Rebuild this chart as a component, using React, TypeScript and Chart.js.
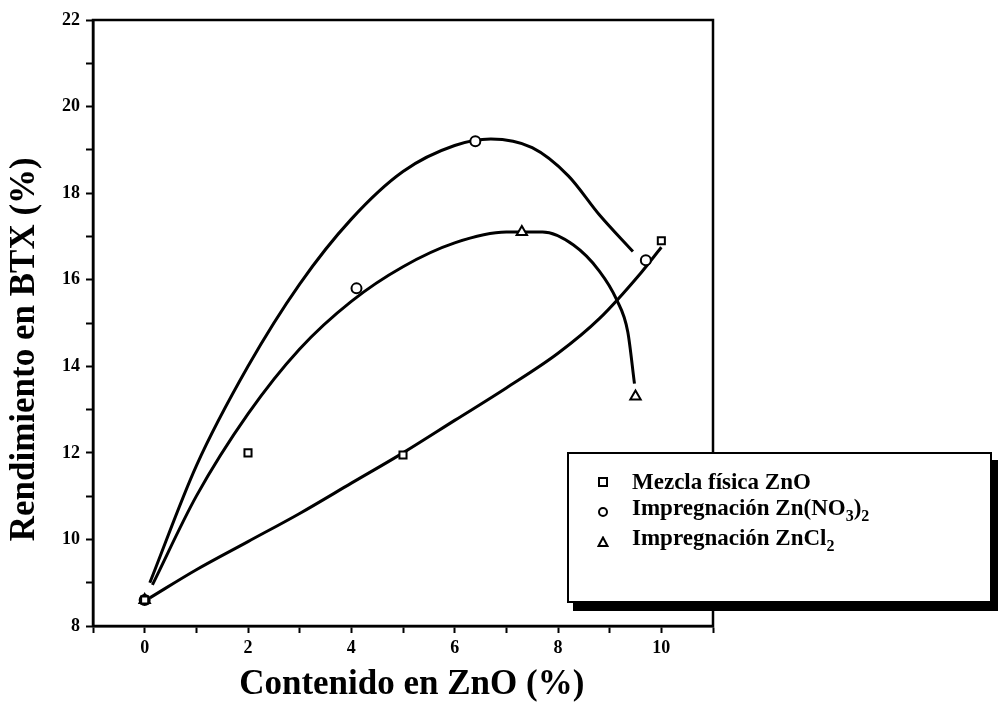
import React, { useEffect, useRef } from "react";
import { Chart, registerables } from "chart.js";

Chart.register(...registerables);

// Measured points
const mezclaX = [0, 2, 5, 10];
const mezclaY = [8.6, 12.0, 11.95, 16.9];
const nitratoX = [0, 4.1, 6.4, 9.7];
const nitratoY = [8.6, 15.8, 19.2, 16.45];
const cloruroX = [0, 7.3, 9.5];
const cloruroY = [8.6, 17.1, 13.3];

// Fitted curves
const mezclaFitX = [0.1, 1, 2, 3, 4, 5, 6, 7, 8, 8.8, 9.6, 10];
const mezclaFitY = [8.65, 9.3, 9.95, 10.6, 11.3, 12.0, 12.75, 13.5, 14.3, 15.1, 16.15, 16.75];
const nitratoFitX = [0.1, 1, 2, 3, 4, 5, 6, 6.7, 7.5, 8.2, 8.8, 9.45];
const nitratoFitY = [9.0, 11.7, 14.0, 15.9, 17.4, 18.5, 19.1, 19.25, 19.05, 18.4, 17.5, 16.65];
const cloruroFitX = [0.15, 1, 2, 3, 4, 5, 6, 7, 7.7, 8.3, 8.8, 9.13, 9.35, 9.48];
const cloruroFitY = [8.95, 11.0, 12.9, 14.4, 15.5, 16.3, 16.85, 17.1, 17.1, 16.8, 16.2, 15.55, 14.8, 13.6];

const xTickLabels = ["0", "2", "4", "6", "8", "10"];
const yTickLabels = ["8", "10", "12", "14", "16", "18", "20", "22"];

const xTitle = "Contenido en ZnO (%)";
const yTitle = "Rendimiento en BTX (%)";

const zip = (xs: number[], ys: number[]) => xs.map((x, i) => ({ x, y: ys[i] }));

const SERIF = "'Liberation Serif', 'Times New Roman', serif";

const framePlugin = {
  id: "frame",
  afterDraw(chart: any) {
    const { ctx, chartArea } = chart;
    ctx.save();
    ctx.strokeStyle = "#000";
    ctx.lineWidth = 2.5;
    ctx.strokeRect(chartArea.left, chartArea.top, chartArea.right - chartArea.left, chartArea.bottom - chartArea.top);
    ctx.restore();
  },
};

export default function App() {
  const ref = useRef<HTMLCanvasElement | null>(null);

  useEffect(() => {
    document.body.style.margin = "0";
    const canvas = ref.current!;
    const lineDs = (xs: number[], ys: number[]) => ({
      type: "line" as const,
      data: zip(xs, ys),
      borderColor: "#000",
      borderWidth: 3,
      pointRadius: 0,
      fill: false,
      cubicInterpolationMode: "monotone" as const,
      order: 2,
    });
    const markDs = (xs: number[], ys: number[], style: string, r: number) => ({
      type: "scatter" as const,
      data: zip(xs, ys),
      showLine: false,
      pointStyle: style,
      pointRadius: r,
      pointBorderWidth: 2,
      pointBorderColor: "#000",
      pointBackgroundColor: "#fff",
      order: 1,
    });
    const chart = new Chart(canvas, {
      type: "scatter",
      data: {
        datasets: [
          lineDs(mezclaFitX, mezclaFitY),
          lineDs(nitratoFitX, nitratoFitY),
          lineDs(cloruroFitX, cloruroFitY),
          markDs(mezclaX, mezclaY, "rect", 5),
          markDs(nitratoX, nitratoY, "circle", 5),
          markDs(cloruroX, cloruroY, "triangle", 6),
        ] as any,
      },
      options: {
        animation: false,
        responsive: false,
        layout: { padding: { left: 0, right: 292, top: 20, bottom: 0 } },
        plugins: { legend: { display: false }, tooltip: { enabled: false } },
        scales: {
          x: {
            type: "linear",
            min: -1,
            max: 11,
            afterFit: (s: any) => { s.height = 80; },
            border: { display: true, color: "#000", width: 2.5 },
            grid: { drawOnChartArea: false, tickLength: 7, tickColor: "#000", tickWidth: 2 },
            ticks: {
              stepSize: 1,
              autoSkip: false,
              maxRotation: 0,
              padding: 5,
              color: "#000",
              font: { family: SERIF, size: 18, weight: "bold" },
              callback: (v: any) => {
                const n = Number(v);
                return n >= 0 && n % 2 === 0 ? xTickLabels[n / 2] : "";
              },
            },
            title: {
              display: true,
              text: "  " + xTitle,
              color: "#000",
              font: { family: SERIF, size: 35, weight: "bold" },
              padding: { top: 0, bottom: 0 },
            },
          },
          y: {
            type: "linear",
            min: 8,
            max: 22,
            afterFit: (s: any) => { s.width = 93; },
            border: { display: true, color: "#000", width: 2.5 },
            grid: { drawOnChartArea: false, tickLength: 7, tickColor: "#000", tickWidth: 2 },
            ticks: {
              stepSize: 1,
              autoSkip: false,
              padding: 6,
              color: "#000",
              font: { family: SERIF, size: 18, weight: "bold" },
              callback: (v: any) => {
                const n = Number(v);
                return n % 2 === 0 ? yTickLabels[(n - 8) / 2] : "";
              },
            },
            title: {
              display: true,
              text: yTitle + "      ",
              color: "#000",
              font: { family: SERIF, size: 35, weight: "bold" },
              padding: { top: 4, bottom: 0 },
            },
          },
        },
      },
      plugins: [framePlugin],
    });
    return () => chart.destroy();
  }, []);

  const rowStyle: React.CSSProperties = {
    position: "absolute",
    left: 0,
    height: 30,
    display: "flex",
    alignItems: "center",
    whiteSpace: "nowrap",
  };
  const textStyle: React.CSSProperties = {
    position: "absolute",
    left: 63,
    fontFamily: SERIF,
    fontWeight: "bold",
    fontSize: 23,
    color: "#000",
    lineHeight: "30px",
  };
  const markerWrap: React.CSSProperties = {
    position: "absolute",
    left: 28,
    top: 9,
    width: 12,
    height: 12,
  };

  return (
    <div style={{ position: "fixed", left: 0, top: 0, width: 1005, height: 706, background: "#fff" }}>
      <canvas ref={ref} width={1005} height={706} style={{ display: "block" }} />
      <div
        style={{
          position: "absolute",
          left: 567,
          top: 452,
          width: 421,
          height: 147,
          border: "2px solid #000",
          background: "#fff",
          boxShadow: "6px 8px 0 #000",
        }}
      >
        <div style={{ ...rowStyle, top: 13 }}>
          <svg style={markerWrap} viewBox="0 0 12 12">
            <rect x="2" y="2" width="8" height="8" fill="#fff" stroke="#000" strokeWidth="2" />
          </svg>
          <span style={textStyle}>Mezcla física ZnO</span>
        </div>
        <div style={{ ...rowStyle, top: 43 }}>
          <svg style={markerWrap} viewBox="0 0 12 12">
            <circle cx="6" cy="6" r="4" fill="#fff" stroke="#000" strokeWidth="2" />
          </svg>
          <span style={textStyle}>
            Impregnación Zn(NO<sub style={{ fontSize: 16 }}>3</sub>)<sub style={{ fontSize: 16 }}>2</sub>
          </span>
        </div>
        <div style={{ ...rowStyle, top: 73 }}>
          <svg style={markerWrap} viewBox="0 0 12 12">
            <polygon points="6,1.5 10.5,10 1.5,10" fill="#fff" stroke="#000" strokeWidth="2" />
          </svg>
          <span style={textStyle}>
            Impregnación ZnCl<sub style={{ fontSize: 16 }}>2</sub>
          </span>
        </div>
      </div>
    </div>
  );
}
